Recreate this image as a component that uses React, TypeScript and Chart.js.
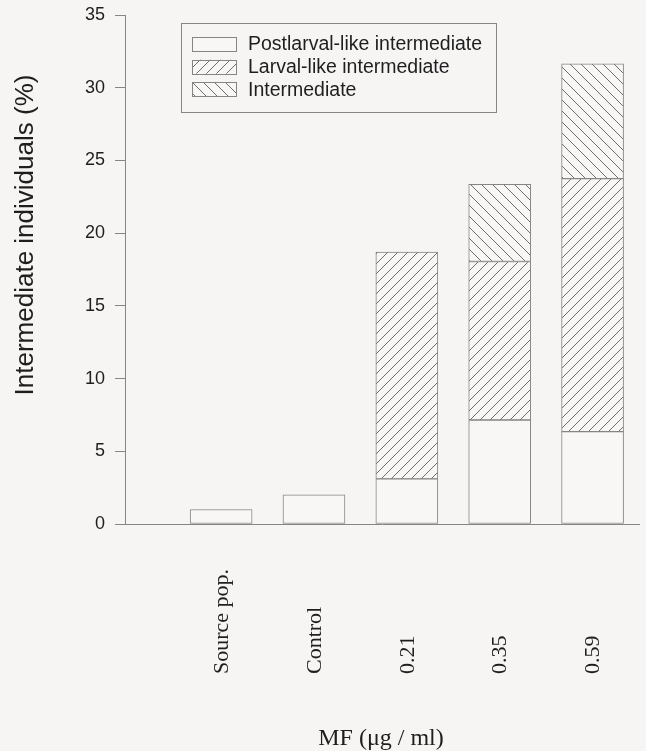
import { useEffect, useRef } from 'react';
import { Chart, registerables } from 'chart.js';

Chart.register(...registerables);

// Groups along the x axis and their slot positions on the linear scale
const categories = ['Source pop.', 'Control', '0.21', '0.35', '0.59'];
const slots = [1, 2, 3, 4, 5];

// Percent of intermediate individuals per group, stacked by type
const postlarvalLike = [1.0, 2.0, 3.1, 7.15, 6.35];
const larvalLike = [null, null, 15.6, 10.9, 17.4];
const intermediate = [null, null, null, 5.3, 7.9];

const seriesNames = [
  'Postlarval-like intermediate',
  'Larval-like intermediate',
  'Intermediate',
];

const yTickValues = [0, 5, 10, 15, 20, 25, 30, 35];
const yTitle = 'Intermediate individuals (%)';
const xTitle = 'MF (\u03bcg / ml)';

const PAGE_BG = '#f7f5f4';
const BAR_FILL = '#f9f7f6';
const LINE = '#858585';
const HATCH = '#6e6e6e';
const TEXT = '#1e1e1e';
const SANS = '"Liberation Sans", Arial, Helvetica, sans-serif';
const SERIF = '"Liberation Serif", "Times New Roman", Times, serif';

function makeHatch(direction: 'up' | 'down', size: number): CanvasPattern | string {
  const tile = document.createElement('canvas');
  tile.width = size;
  tile.height = size;
  const c = tile.getContext('2d');
  if (!c) return BAR_FILL;
  c.fillStyle = BAR_FILL;
  c.fillRect(0, 0, size, size);
  c.strokeStyle = HATCH;
  c.lineWidth = 1;
  c.beginPath();
  if (direction === 'up') {
    // "/" lines
    c.moveTo(-1, size + 1);
    c.lineTo(size + 1, -1);
    c.moveTo(-1, 1);
    c.lineTo(1, -1);
    c.moveTo(size - 1, size + 1);
    c.lineTo(size + 1, size - 1);
  } else {
    // "\" lines
    c.moveTo(-1, -1);
    c.lineTo(size + 1, size + 1);
    c.moveTo(size - 1, -1);
    c.lineTo(size + 1, 1);
    c.moveTo(-1, size - 1);
    c.lineTo(1, size + 1);
  }
  c.stroke();
  const pattern = c.createPattern(tile, 'repeat');
  return pattern || BAR_FILL;
}

// Legend box, rotated category labels and the two axis titles
const figureText = {
  id: 'figureText',
  afterDraw(chart: any) {
    const { ctx, chartArea } = chart;
    const xScale = chart.scales.x;
    ctx.save();

    // legend
    const bx = chartArea.left + 56;
    const by = chartArea.top + 8;
    const bw = 315;
    const bh = 89;
    ctx.fillStyle = PAGE_BG;
    ctx.fillRect(bx, by, bw, bh);
    ctx.strokeStyle = LINE;
    ctx.lineWidth = 1;
    ctx.strokeRect(bx + 0.5, by + 0.5, bw, bh);
    chart.data.datasets.forEach((ds: any, i: number) => {
      const sx = bx + 11;
      const sy = by + 14 + i * 22.7;
      ctx.fillStyle = ds.backgroundColor;
      ctx.fillRect(sx, sy, 44, 14);
      ctx.strokeStyle = LINE;
      ctx.strokeRect(Math.round(sx) + 0.5, Math.round(sy) + 0.5, 44, 14);
      ctx.fillStyle = TEXT;
      ctx.font = `19.5px ${SANS}`;
      ctx.textAlign = 'left';
      ctx.textBaseline = 'middle';
      ctx.fillText(ds.label, bx + 67, sy + 8);
    });

    // category labels, reading upward
    ctx.font = `22px ${SERIF}`;
    ctx.fillStyle = TEXT;
    ctx.textAlign = 'left';
    ctx.textBaseline = 'middle';
    categories.forEach((label, i) => {
      const px = xScale.getPixelForValue(slots[i]) + 1;
      ctx.save();
      ctx.translate(px, chartArea.bottom + 150);
      ctx.rotate(-Math.PI / 2);
      ctx.fillText(label, 0, 0);
      ctx.restore();
    });

    // y title
    ctx.save();
    ctx.font = `26px ${SANS}`;
    ctx.textAlign = 'center';
    ctx.textBaseline = 'alphabetic';
    ctx.translate(33, 235);
    ctx.rotate(-Math.PI / 2);
    ctx.fillText(yTitle, 0, 0);
    ctx.restore();

    // x title
    ctx.font = `24px ${SERIF}`;
    ctx.textAlign = 'center';
    ctx.textBaseline = 'alphabetic';
    ctx.fillText(xTitle, (chartArea.left + chartArea.right) / 2 - 1, 745);

    ctx.restore();
  },
};

const pageBackground = {
  id: 'pageBackground',
  beforeDraw(chart: any) {
    const { ctx, width, height } = chart;
    ctx.save();
    ctx.fillStyle = PAGE_BG;
    ctx.fillRect(0, 0, width, height);
    ctx.restore();
  },
};

export default function App() {
  const canvasRef = useRef<HTMLCanvasElement | null>(null);

  useEffect(() => {
    const canvas = canvasRef.current;
    if (!canvas) return;
    const toPoints = (vals: (number | null)[]) =>
      vals.map((v, i) => ({ x: slots[i], y: v }));

    const barStyle = {
      borderColor: LINE,
      borderWidth: 1,
      borderSkipped: false as const,
      barThickness: 62,
    };

    const chart = new Chart(canvas, {
      type: 'bar',
      data: {
        datasets: [
          {
            label: seriesNames[0],
            data: toPoints(postlarvalLike) as any,
            backgroundColor: BAR_FILL,
            ...barStyle,
          },
          {
            label: seriesNames[1],
            data: toPoints(larvalLike) as any,
            backgroundColor: makeHatch('up', 10) as any,
            ...barStyle,
          },
          {
            label: seriesNames[2],
            data: toPoints(intermediate) as any,
            backgroundColor: makeHatch('down', 11) as any,
            ...barStyle,
          },
        ],
      },
      options: {
        responsive: false,
        animation: false,
        devicePixelRatio: 1,
        layout: { padding: { top: 0, right: 7, bottom: 0, left: 0 } },
        plugins: {
          legend: { display: false },
          tooltip: { enabled: false },
        },
        scales: {
          x: {
            type: 'linear',
            stacked: true,
            offset: false,
            min: -0.035,
            max: 5.5,
            grid: { display: false },
            border: { display: true, color: LINE, width: 1 },
            ticks: { display: false },
            afterFit(scale: any) {
              scale.height = 227;
            },
          },
          y: {
            stacked: true,
            min: 0,
            max: 35,
            afterBuildTicks(scale: any) {
              scale.ticks = yTickValues.map((v) => ({ value: v }));
            },
            grid: {
              drawOnChartArea: false,
              drawTicks: true,
              tickLength: 10,
              color: LINE,
            },
            border: { display: true, color: LINE, width: 1 },
            ticks: {
              padding: 10,
              color: TEXT,
              font: { family: SANS, size: 18 },
            },
            afterFit(scale: any) {
              scale.width = 125;
              scale.paddingTop = 15;
            },
          },
        },
      },
      plugins: [pageBackground, figureText],
    });

    return () => chart.destroy();
  }, []);

  return (
    <div
      style={{
        position: 'fixed',
        left: 0,
        top: 0,
        width: 646,
        height: 751,
        background: PAGE_BG,
      }}
    >
      <canvas ref={canvasRef} width={646} height={751} style={{ display: 'block' }} />
    </div>
  );
}
